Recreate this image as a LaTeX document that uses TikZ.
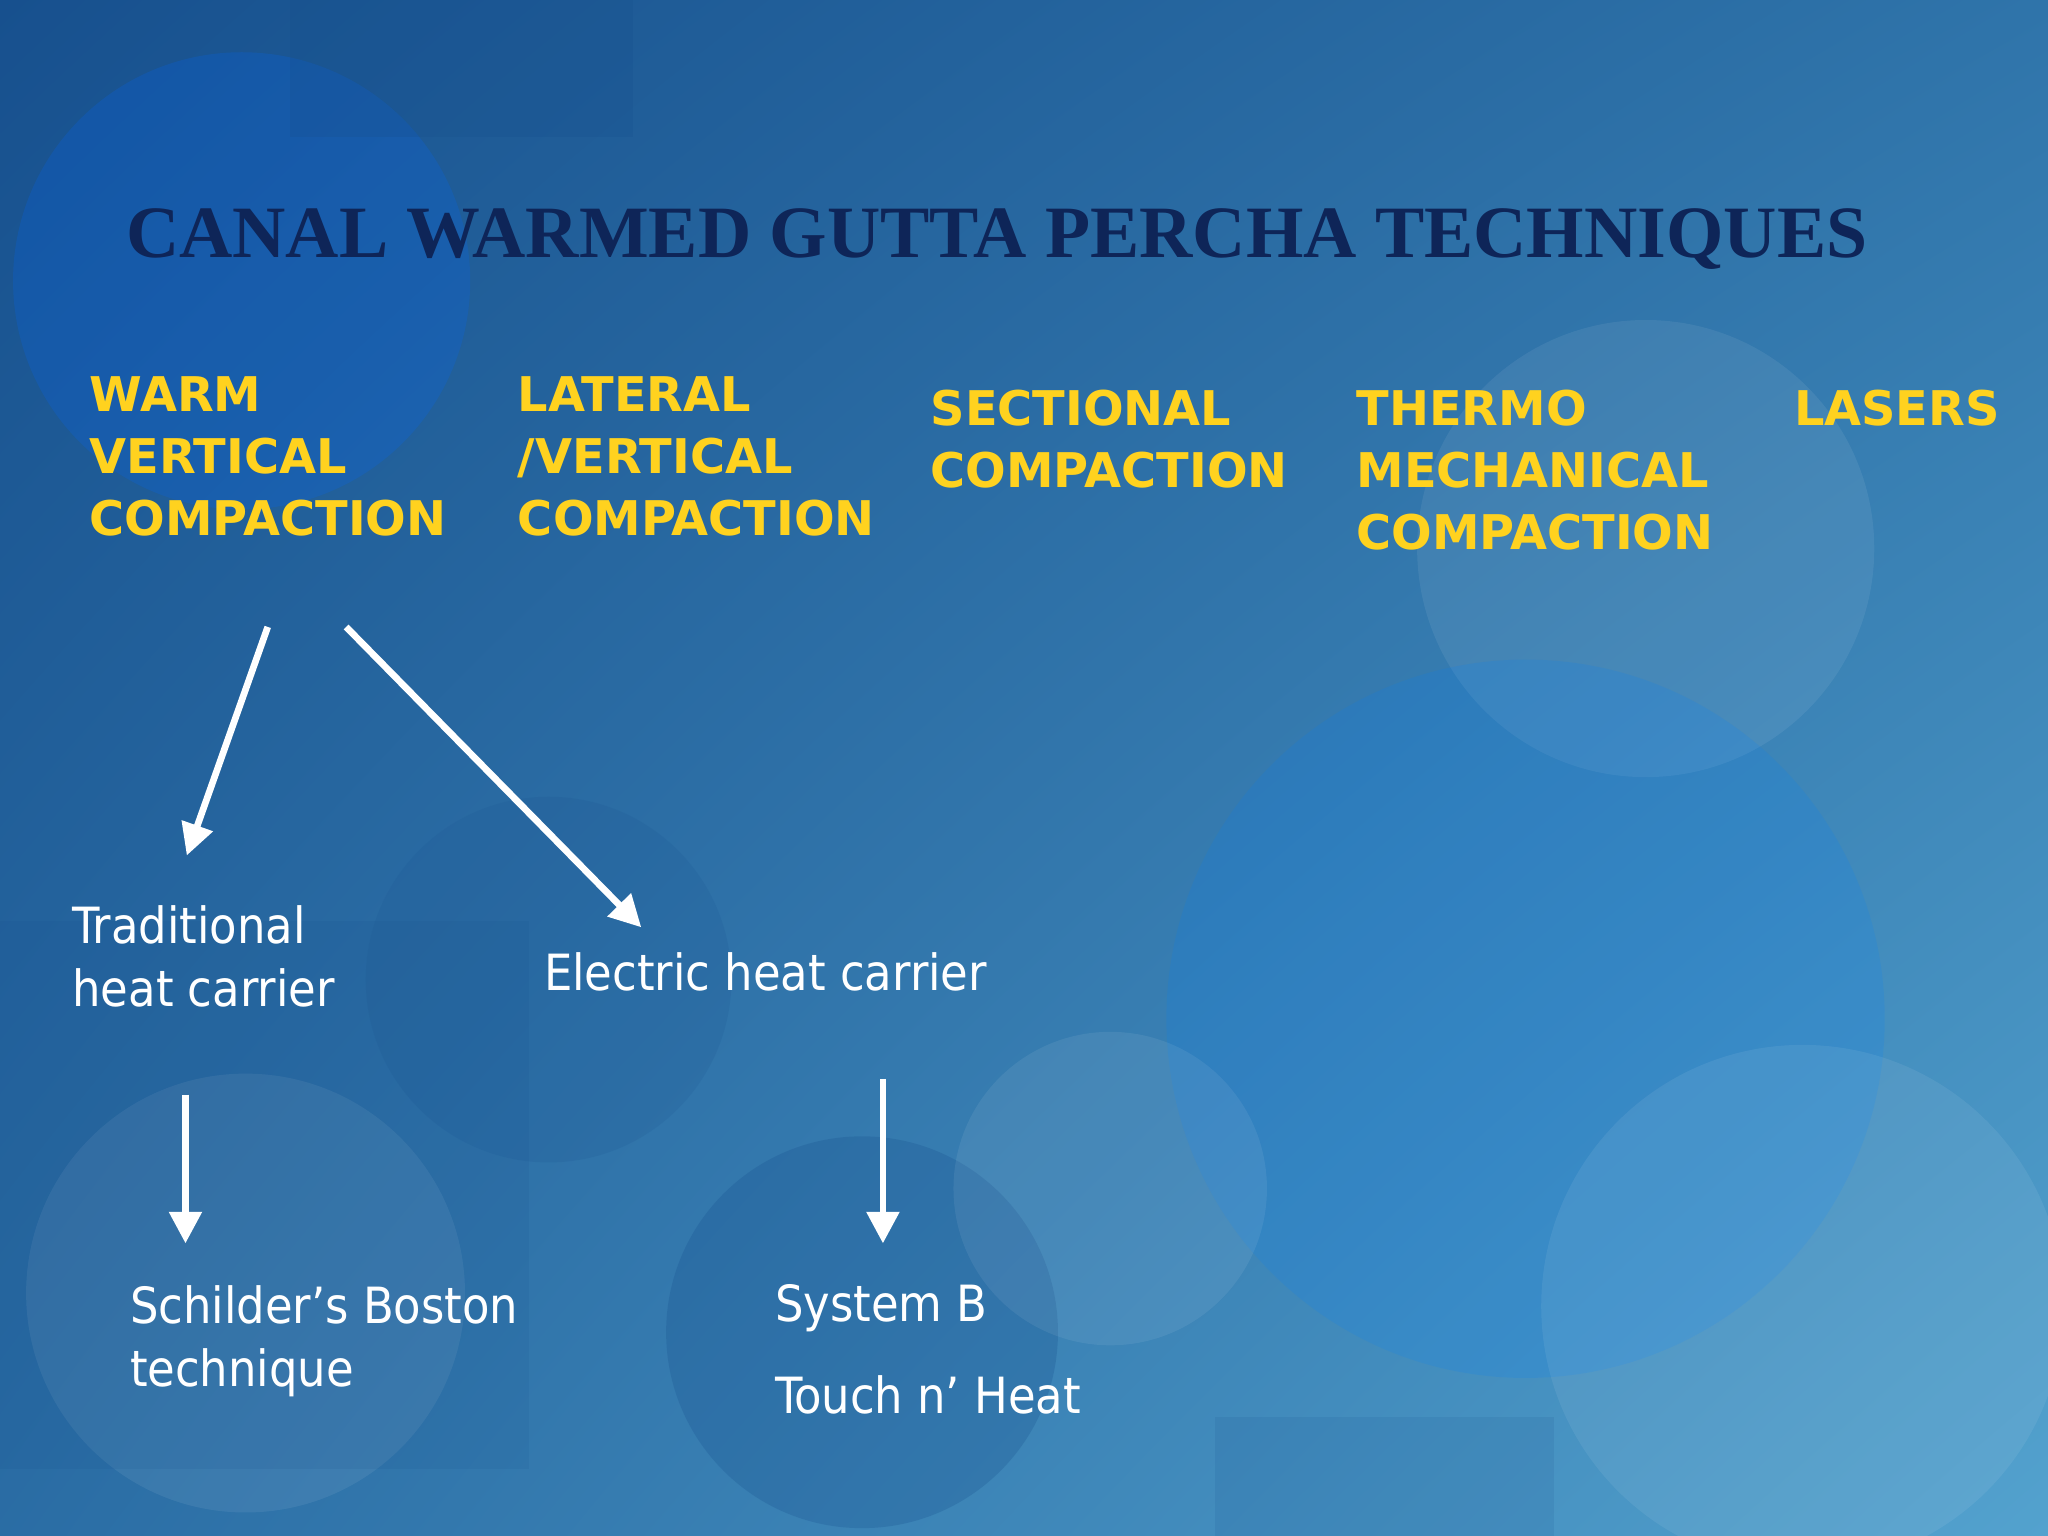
\documentclass[tikz,border=0pt]{standalone}
\usepackage{fontspec}
\setmainfont{DejaVu Sans}
\newfontfamily\titlefont{Liberation Serif}
\newfontfamily\condfont{DejaVu Sans Condensed}
\usetikzlibrary{arrows.meta,shadings}
\definecolor{ylw}{HTML}{FFD21F}
\definecolor{navy}{HTML}{0E2558}
\definecolor{bgA}{HTML}{17508E}
\definecolor{bgM}{HTML}{2F74AA}
\definecolor{bgB}{HTML}{53A2CE}
\tikzset{
  ytext/.style={anchor=north west,inner sep=0pt,align=left,text=ylw,font=\fontsize{13.6}{17.6}\selectfont\bfseries},
  wtext/.style={anchor=north west,inner sep=0pt,align=left,text=white,font=\condfont\fontsize{14.2}{17.8}\selectfont},
  arr/.style={draw=white,line width=1.9pt,-{Triangle[length=9pt,width=9pt]}},
  bub/.style={fill=white,opacity=0.07}
}
\begin{document}
\begin{tikzpicture}[x=0.013061cm,y=-0.013061cm]
\useasboundingbox (0,0) rectangle (1568,1176);
\shade[upper left=bgA,upper right=bgM,lower left=bgM!80!bgA,lower right=bgB] (0,0) rectangle (1568,1176);
% bubbles
\fill[blue!60!cyan,opacity=0.2] (185,215) circle (175);
\fill[bgA,opacity=0.25] (222,0) rectangle (485,105);
\fill[bub] (1260,420) circle (175);
\fill[blue!50!cyan,opacity=0.15] (1168,780) circle (275);
\fill[bub] (188,990) circle (168);
\fill[bgA,opacity=0.25] (660,1020) circle (150);
\fill[bub] (1380,1000) circle (200);
\fill[bgA,opacity=0.15] (420,750) circle (140);
\fill[bub] (850,910) circle (120);
\fill[bgA,opacity=0.12] (0,705) rectangle (405,1125);
\fill[bgA,opacity=0.12] (930,1085) rectangle (1190,1176);
% title
\node[anchor=base west,inner sep=0pt,text=navy,font=\titlefont\fontsize{21}{24}\selectfont\bfseries] (title) at (96,197) {CANAL WARMED GUTTA PERCHA TECHNIQUES};
% categories
\node[ytext] (wv) at (68,288) {WARM\\VERTICAL\\COMPACTION};
\node[ytext] (lv) at (396,288) {LATERAL\\/VERTICAL\\COMPACTION};
\node[ytext] (sc) at (712,298) {SECTIONAL\\COMPACTION};
\node[ytext] (tm) at (1038,298) {THERMO\\MECHANICAL\\COMPACTION};
\node[ytext] (la) at (1373,298) {LASERS};
% sub
\node[wtext] (thc) at (55,693) {Traditional\\heat carrier};
\node[wtext] (ehc) at (416,729) {Electric heat carrier};
\node[wtext] (sb) at (99,984) {Schilder’s Boston\\technique};
\node[wtext,font=\condfont\fontsize{14.2}{26}\selectfont] (sys) at (593,983) {System B\\Touch n’ Heat};
% arrows
\coordinate (a1s) at (205,480); \coordinate (a1e) at (143,655);
\coordinate (a2s) at (265,480); \coordinate (a2e) at (491,710);
\coordinate (a3s) at (142,838); \coordinate (a3e) at (142,952);
\coordinate (a4s) at (676,826); \coordinate (a4e) at (676,952);
\draw[arr] (a1s) -- (a1e);
\draw[arr] (a2s) -- (a2e);
\draw[arr] (a3s) -- (a3e);
\draw[arr] (a4s) -- (a4e);
\end{tikzpicture}
\end{document}
